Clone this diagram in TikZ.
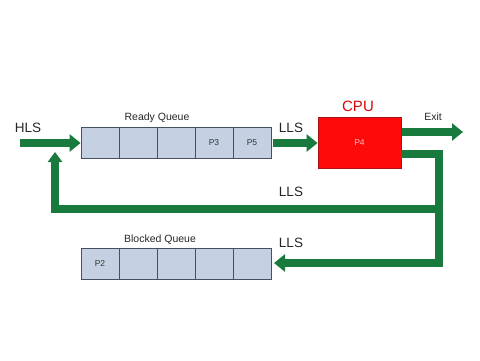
\documentclass[tikz,border=0pt]{standalone}
\usepackage{fontspec}
\setmainfont{Liberation Sans}
\usetikzlibrary{arrows.meta}
\definecolor{flow}{RGB}{24,122,60}
\definecolor{cellfill}{RGB}{197,208,226}
\definecolor{celldraw}{RGB}{70,80,100}
\definecolor{cpured}{RGB}{255,10,10}
\definecolor{cpuedge}{RGB}{170,20,20}
\begin{document}
\begin{tikzpicture}[x=1pt,y=-1pt,
  cell/.style={draw=celldraw,fill=cellfill,line width=0.8pt,minimum width=38pt,minimum height=31pt,inner sep=0pt,font=\fontsize{8.5}{10}\selectfont,text=black!80},
  flowline/.style={draw=flow,line width=8pt,line join=miter},
  flowarrow/.style={flowline,-{Triangle[length=11pt,width=17pt]}},
  lbl/.style={font=\fontsize{13.5}{15}\selectfont,text=black!85},
  small/.style={font=\fontsize{10.5}{12}\selectfont,text=black!85}]
\useasboundingbox (0,0) rectangle (480,360);
% ready queue
\node[cell] (r1) at (100,143) {};
\node[cell] (r2) at (138,143) {};
\node[cell] (r3) at (176,143) {};
\node[cell] (r4) at (214,143) {P3};
\node[cell] (r5) at (252,143) {P5};
\node[small] (rq) at (157,118) {Ready Queue};
% blocked queue
\node[cell] (b1) at (100,264) {P2};
\node[cell] (b2) at (138,264) {};
\node[cell] (b3) at (176,264) {};
\node[cell] (b4) at (214,264) {};
\node[cell] (b5) at (252,264) {};
\node[small] (bq) at (160,240) {Blocked Queue};
% cpu
\node[draw=cpuedge,fill=cpured,line width=0.8pt,minimum width=83pt,minimum height=51pt,inner sep=0pt,font=\fontsize{8.5}{10}\selectfont,text=red!25] (cpu) at (359.5,143) {P4};
\node[font=\fontsize{15}{17}\selectfont,text=cpured!85!black] (cputxt) at (358,106) {CPU};
% labels
\node[font=\fontsize{13.5}{15}\selectfont,text=black!85] (hls) at (28,128) {HLS};
\node[lbl] (lls1) at (291,128) {LLS};
\node[lbl] (lls2) at (291,192) {LLS};
\node[lbl] (lls3) at (291,243) {LLS};
\node[small] (exit) at (433,117) {Exit};
% coordinates
\coordinate (hlsstart) at (20,143);
\coordinate (exitend) at (463,132);
\coordinate (fbstart) at (401,154);
\coordinate (fbcorner) at (439,154);
\coordinate (fbbottom) at (439,263);
\coordinate (branch) at (439,209);
\coordinate (leftcorner) at (55,209);
\coordinate (uptip) at (55,152);
\coordinate (bqend) at (274,263);
% arrows
\draw[flowarrow] (hlsstart) -- (r1.west);
\draw[flowarrow] (r5.east) ++(2,0) -- (cpu.west);
\draw[flowarrow] (cpu.east |- exitend) ++(1,0) -- (exitend);
\draw[flowarrow] (fbstart) -- (fbcorner) -- (fbbottom) -- (bqend);
\draw[flowline,-{Triangle[length=10pt,width=14pt]}] (branch) -- (leftcorner) -- (uptip);
\end{tikzpicture}
\end{document}
